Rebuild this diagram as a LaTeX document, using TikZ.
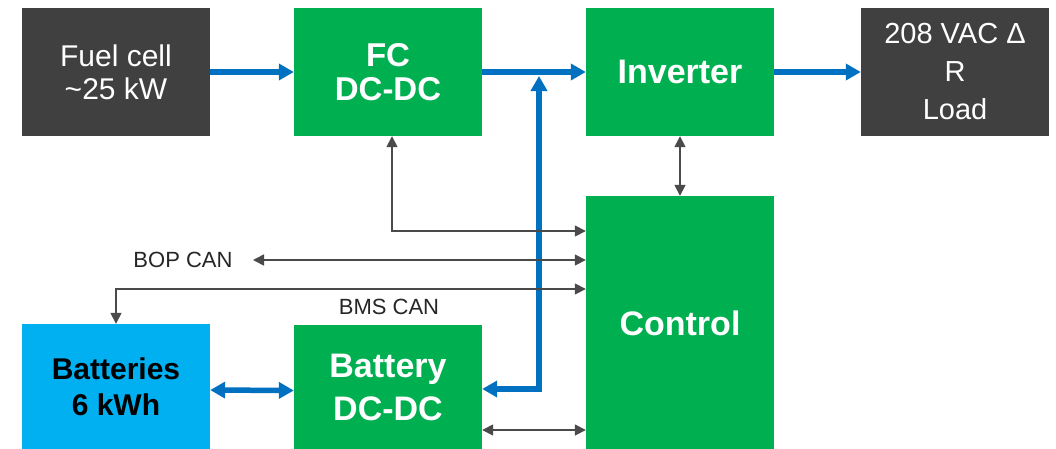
\documentclass[tikz,border=0pt]{standalone}
\usepackage{fontspec}
\setmainfont{Liberation Sans}
\usetikzlibrary{arrows.meta}
\definecolor{cgreen}{HTML}{00B050}
\definecolor{cdark}{HTML}{404040}
\definecolor{cbat}{HTML}{00B0F0}
\definecolor{cblue}{HTML}{0070C0}
\definecolor{cline}{HTML}{4A4A4A}
\definecolor{ctext}{HTML}{262626}
\begin{document}
\begin{tikzpicture}[x=1pt,y=-1pt,
  box/.style={rectangle, inner sep=0pt, minimum width=188pt, align=center, text=white},
  darkbox/.style={box, fill=cdark, minimum height=128pt},
  greenbox/.style={box, fill=cgreen, font=\bfseries\fontsize{33}{34}\selectfont},
  power/.style={draw=cblue, line width=5.5pt, -{Triangle[length=15pt,width=16pt]}},
  powerboth/.style={draw=cblue, line width=5.5pt, {Triangle[length=15pt,width=16pt]}-{Triangle[length=15pt,width=16pt]}},
  sig/.style={draw=cline, line width=1.6pt, {Triangle[length=11pt,width=11pt]}-{Triangle[length=11pt,width=11pt]}},
  lbl/.style={text=ctext, font=\fontsize{22}{24}\selectfont, inner sep=0pt}
]
\useasboundingbox (0,0) rectangle (1056,448);
\fill[white] (0,0) rectangle (1056,448);

\node[darkbox, font=\fontsize{30}{33}\selectfont] (fuel) at (116,72) {Fuel cell\\\textasciitilde25 kW};
\node[greenbox, minimum height=128pt] (fc) at (388,72) {FC\\DC-DC};
\node[greenbox, minimum height=128pt, font=\bfseries\fontsize{34}{36}\selectfont] (inv) at (680,72) {Inverter};
\node[darkbox, font=\fontsize{29}{38}\selectfont] (load) at (955,72) {208 VAC Δ\\R\\Load};
\node[greenbox, minimum height=254pt, font=\bfseries\fontsize{34}{36}\selectfont] (ctrl) at (680,323) {Control};
\node[box, fill=cbat, text=black, minimum height=126pt, font=\bfseries\fontsize{30}{36}\selectfont] (bat) at (116,387) {Batteries\\6 kWh};
\node[greenbox, minimum height=125pt, font=\bfseries\fontsize{34}{43}\selectfont] (bdc) at (388,387.5) {Battery\\DC-DC};

\node[lbl] (boplbl) at (183,260) {BOP CAN};
\node[lbl] (bmslbl) at (389,307) {BMS CAN};

% power paths
\draw[power] (fuel.east) -- (fc.west);
\draw[power] (fc.east) -- (inv.west);
\draw[power] (inv.east) -- (load.west);
\draw[powerboth] ([yshift=-3pt]bat.east) -- ([yshift=-3pt]bdc.west);
\coordinate (jn) at (539,389);
\coordinate (jtop) at (539,76);
\draw[powerboth, line join=miter] (bdc.east |- jn) -- (jn) -- (jtop);

% signal paths
\coordinate (bop) at (253,260);
\draw[sig] ([xshift=4pt]fc.south) |- (ctrl.west |- 0,231);
\draw[sig] (bop) -- (ctrl.west |- bop);
\draw[sig] (ctrl.west |- 0,289) -| (bat.north);
\draw[sig] (inv.south) -- (ctrl.north);
\draw[sig] (bdc.east |- 0,430) -- (ctrl.west |- 0,430);
\end{tikzpicture}
\end{document}
